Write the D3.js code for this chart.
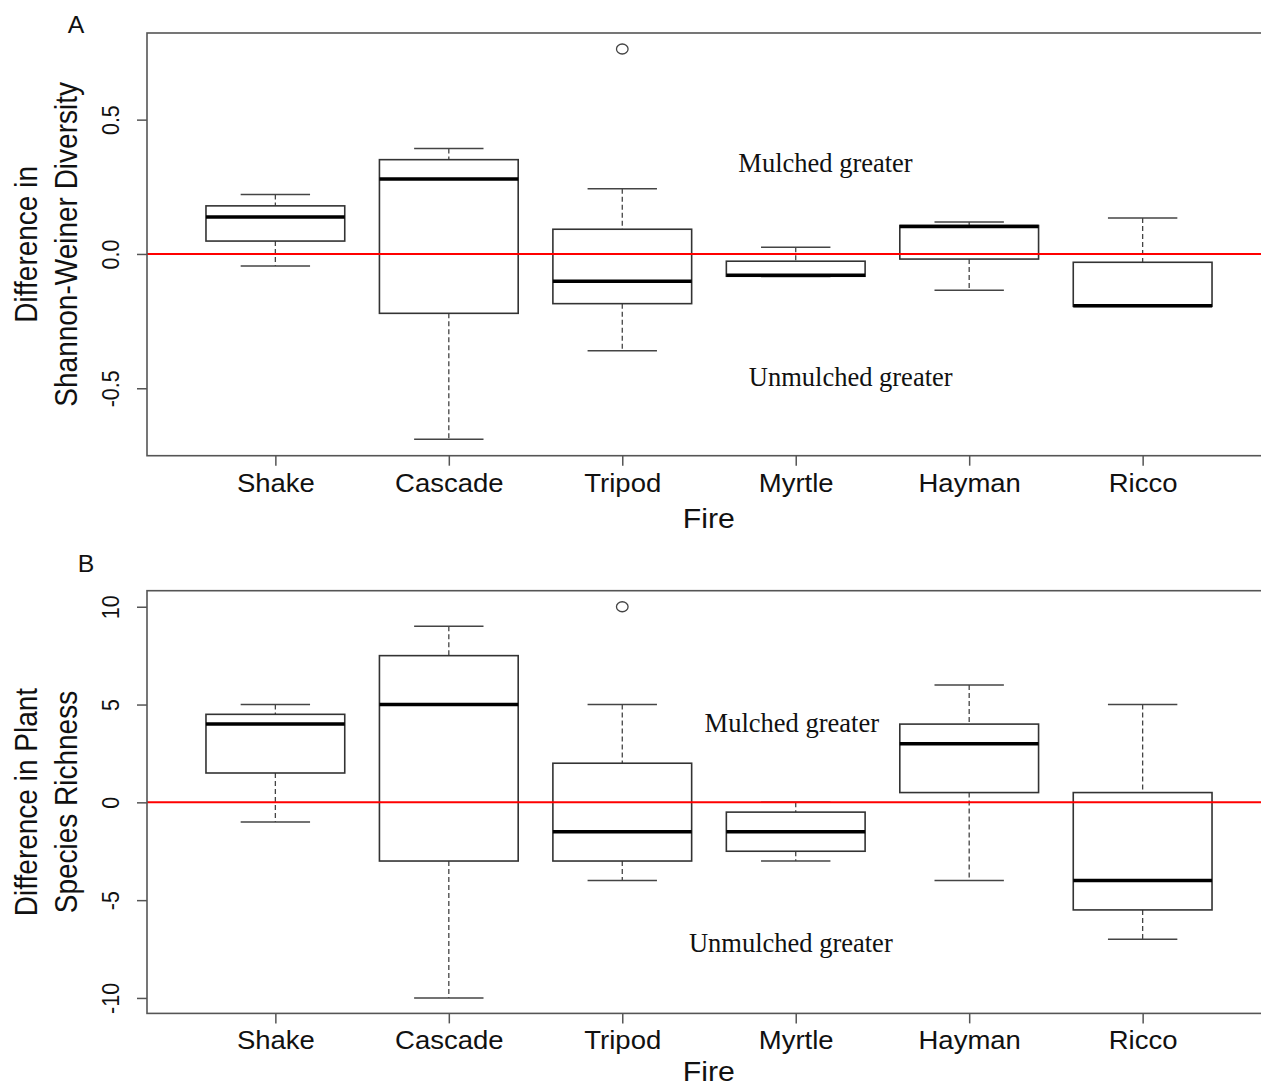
<!DOCTYPE html>
<html>
<head>
<meta charset="utf-8">
<script src="https://cdn.jsdelivr.net/npm/d3@7"></script>
<style>
  body { margin: 0; background: #fff; }
  .sans { font-family: "Liberation Sans", Arial, sans-serif; fill: #111; }
  .serif { font-family: "Liberation Serif", "Times New Roman", serif; fill: #111; }
</style>
</head>
<body>
<div id="vis"></div>
<script>
var w = 1261;
var h = 1088;

// fires along the x axis
var fires = ['Shake', 'Cascade', 'Tripod', 'Myrtle', 'Hayman', 'Ricco'];

// panel A: difference in Shannon-Weiner diversity (five number summaries)
var divLow  = [-0.045, -0.690, -0.360, -0.084, -0.135, -0.195];
var divQ1   = [ 0.048, -0.221, -0.185, -0.083, -0.019, -0.195];
var divMed  = [ 0.138,  0.279, -0.102, -0.079,  0.102, -0.193];
var divQ3   = [ 0.179,  0.351,  0.092, -0.027,  0.106, -0.031];
var divHigh = [ 0.221,  0.393,  0.243,  0.025,  0.119,  0.134];
var divOutliers = [{ fire: 'Tripod', value: 0.763 }];
var divTicks = [-0.5, 0.0, 0.5];

// panel B: difference in plant species richness
var richLow  = [-1, -10, -4, -3, -4, -7];
var richQ1   = [1.5, -3, -3, -2.5, 0.5, -5.5];
var richMed  = [4, 5, -1.5, -1.5, 3, -4];
var richQ3   = [4.5, 7.5, 2, -0.5, 4, 0.5];
var richHigh = [5, 9, 5, 0, 6, 5];
var richOutliers = [{ fire: 'Tripod', value: 10 }];
var richTicks = [-10, -5, 0, 5, 10];

var svg = d3.select('#vis')
  .append('svg')
    .attr('width', w)
    .attr('height', h);

function rows(low, q1, med, q3, high) {
  return fires.map(function(f, i) {
    return { fire: f, pos: i + 1, low: low[i], q1: q1[i], med: med[i], q3: q3[i], high: high[i] };
  });
}

// R prints a plain hyphen for negatives
function hyphen(fmt) {
  return function(v) { return fmt(v).replace('\u2212', '-'); };
}

function drawPanel(opt) {
  var top = opt.top, bottom = opt.top + 422.7;
  var left = 147, right = 1271;

  var x = d3.scaleLinear().domain([0.26, 6.74]).range([left, right]);
  var y = d3.scaleLinear().domain(opt.domain).range([bottom, top]);
  var g = svg.append('g');

  var box = g.selectAll('g.box')
    .data(opt.data)
    .enter()
    .append('g')
      .attr('class', 'box');

  // whiskers (dashed)
  box.append('line')
    .attr('x1', function(d) { return x(d.pos); })
    .attr('x2', function(d) { return x(d.pos); })
    .attr('y1', function(d) { return y(d.high); })
    .attr('y2', function(d) { return y(d.q3); })
    .style('stroke', '#444').style('stroke-width', 1.3).style('stroke-dasharray', '5,3');
  box.append('line')
    .attr('x1', function(d) { return x(d.pos); })
    .attr('x2', function(d) { return x(d.pos); })
    .attr('y1', function(d) { return y(d.q1); })
    .attr('y2', function(d) { return y(d.low); })
    .style('stroke', '#444').style('stroke-width', 1.3).style('stroke-dasharray', '5,3');

  // caps
  ['high', 'low'].forEach(function(k) {
    box.append('line')
      .attr('x1', function(d) { return x(d.pos - 0.2); })
      .attr('x2', function(d) { return x(d.pos + 0.2); })
      .attr('y1', function(d) { return y(d[k]); })
      .attr('y2', function(d) { return y(d[k]); })
      .style('stroke', '#444').style('stroke-width', 1.5);
  });

  // boxes
  box.append('rect')
    .attr('x', function(d) { return x(d.pos - 0.4); })
    .attr('width', function(d) { return x(d.pos + 0.4) - x(d.pos - 0.4); })
    .attr('y', function(d) { return y(d.q3); })
    .attr('height', function(d) { return y(d.q1) - y(d.q3); })
    .style('fill', 'none')
    .style('stroke', '#333')
    .style('stroke-width', 1.6);

  // medians
  box.append('line')
    .attr('x1', function(d) { return x(d.pos - 0.4); })
    .attr('x2', function(d) { return x(d.pos + 0.4); })
    .attr('y1', function(d) { return y(d.med); })
    .attr('y2', function(d) { return y(d.med); })
    .style('stroke', '#000').style('stroke-width', 3.5);

  // outliers
  g.selectAll('ellipse')
    .data(opt.outliers)
    .enter()
    .append('ellipse')
      .attr('cx', function(d) { return x(fires.indexOf(d.fire) + 1); })
      .attr('cy', function(d) { return y(d.value); })
      .attr('rx', 5.8).attr('ry', 5)
      .style('fill', 'none').style('stroke', '#444').style('stroke-width', 1.3);

  // zero line, drawn over the boxes
  g.append('line')
    .attr('x1', left).attr('x2', right)
    .attr('y1', y(0)).attr('y2', y(0))
    .style('stroke', '#ff0000')
    .style('stroke-width', 2);

  // frame
  g.append('rect')
    .attr('x', left).attr('y', top)
    .attr('width', right - left).attr('height', bottom - top)
    .style('fill', 'none').style('stroke', '#555').style('stroke-width', 1.6);

  // y axis
  var yAxis = g.append('g')
    .attr('transform', 'translate(' + left + ',0)')
    .call(d3.axisLeft(y).tickValues(opt.ticks).tickSize(10).tickSizeOuter(0).tickFormat(hyphen(opt.fmt)));
  yAxis.select('.domain').remove();
  yAxis.selectAll('line').style('stroke', '#555').style('stroke-width', 1.5);
  yAxis.selectAll('text')
    .attr('class', 'sans')
    .attr('x', null).attr('dy', null)
    .attr('text-anchor', 'middle')
    .style('font-size', '21.5px')
    .attr('transform', 'translate(-28.5,0) rotate(-90) scale(1,1.15)');

  // x axis
  var xAxis = g.append('g')
    .attr('transform', 'translate(0,' + bottom + ')')
    .call(d3.axisBottom(x).tickValues([1, 2, 3, 4, 5, 6]).tickSize(10).tickSizeOuter(0)
      .tickFormat(function(i) { return fires[i - 1]; }));
  xAxis.select('.domain').remove();
  xAxis.selectAll('line').style('stroke', '#555').style('stroke-width', 1.5);
  xAxis.selectAll('text')
    .attr('class', 'sans')
    .attr('y', null).attr('dy', null)
    .style('font-size', '25px')
    .attr('transform', 'translate(0,36) scale(1.1,1)');

  // axis titles (keep the lower one inside the page)
  var fireY = Math.min(bottom + 72, h - 7);
  svg.append('text')
    .attr('class', 'sans')
    .attr('text-anchor', 'middle')
    .style('font-size', '27px')
    .attr('transform', 'translate(708.9,' + fireY + ') scale(1.12,1)')
    .text('Fire');

  var cy = (top + bottom) / 2;
  opt.ytitle.forEach(function(t, i) {
    svg.append('text')
      .attr('class', 'sans')
      .attr('text-anchor', 'middle')
      .style('font-size', '28px')
      .attr('transform', 'translate(' + (37 + 40 * i) + ',' + cy + ') rotate(-90) scale(1,1.13)')
      .text(t);
  });

  // panel letter
  svg.append('text')
    .attr('class', 'sans')
    .attr('text-anchor', 'middle')
    .style('font-size', '23px')
    .attr('transform', 'translate(' + opt.letterX + ',' + opt.letterY + ') scale(1.08,1)')
    .text(opt.letter);

  // annotations
  opt.notes.forEach(function(n) {
    svg.append('text')
      .attr('class', 'serif')
      .attr('text-anchor', 'middle')
      .attr('x', n.x).attr('y', n.y)
      .style('font-size', '26.5px')
      .text(n.text);
  });
}

drawPanel({
  top: 33,
  domain: [-0.751, 0.8225],
  data: rows(divLow, divQ1, divMed, divQ3, divHigh),
  outliers: divOutliers,
  ticks: divTicks,
  fmt: d3.format('.1f'),
  ytitle: ['Difference in', 'Shannon-Weiner Diversity'],
  letter: 'A', letterX: 76, letterY: 33,
  notes: [
    { text: 'Mulched greater', x: 825.5, y: 171.7 },
    { text: 'Unmulched greater', x: 850.7, y: 385.7 }
  ]
});

drawPanel({
  top: 590.7,
  domain: [-10.79, 10.82],
  data: rows(richLow, richQ1, richMed, richQ3, richHigh),
  outliers: richOutliers,
  ticks: richTicks,
  fmt: d3.format('d'),
  ytitle: ['Difference in Plant', 'Species Richness'],
  letter: 'B', letterX: 86, letterY: 572,
  notes: [
    { text: 'Mulched greater', x: 791.8, y: 731.7 },
    { text: 'Unmulched greater', x: 790.8, y: 952.3 }
  ]
});
</script>
</body>
</html>
